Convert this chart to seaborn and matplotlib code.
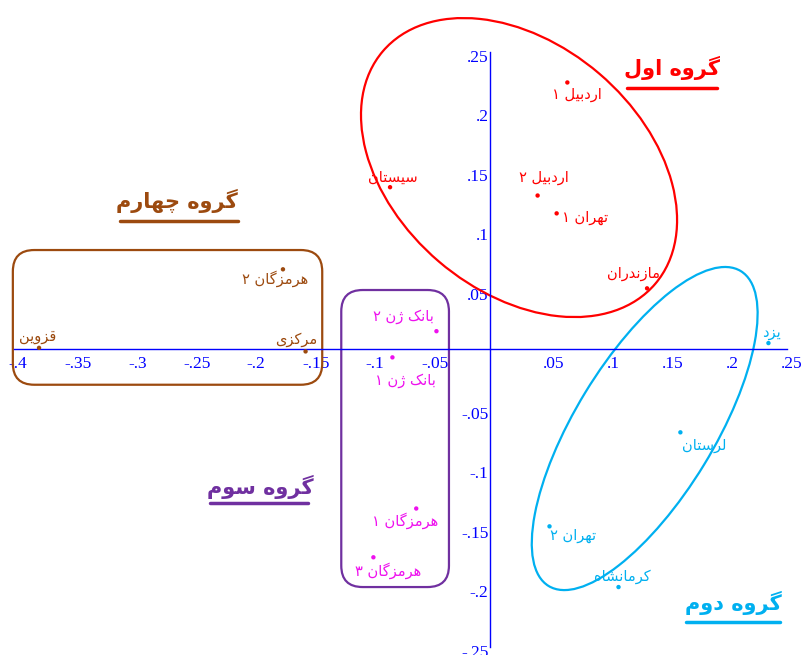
import matplotlib
matplotlib.use("Agg")
import pandas as pd
import matplotlib.pyplot as plt
import matplotlib.transforms as mtransforms
import seaborn as sns
from matplotlib.patches import Ellipse, FancyBboxPatch
from matplotlib.ticker import MultipleLocator, FuncFormatter

# province scores on the first two dimensions
names = ["اردبیل ۱", "اردبیل ۲", "تهران ۱", "سیستان", "مازندران",
         "یزد", "لرستان", "تهران ۲", "کرمانشاه",
         "بانک ژن ۲", "بانک ژن ۱", "هرمزگان ۱", "هرمزگان ۳",
         "هرمزگان ۲", "قزوین", "مرکزی"]
dim1 = [0.065, 0.040, 0.056, -0.084, 0.132,
        0.234, 0.160, 0.050, 0.108,
        -0.045, -0.082, -0.062, -0.098,
        -0.174, -0.379, -0.155]
dim2 = [0.224, 0.129, 0.114, 0.136, 0.051,
        0.005, -0.070, -0.149, -0.200,
        0.015, -0.007, -0.134, -0.175,
        0.067, 0.001, -0.002]
groups = ["g1"] * 5 + ["g2"] * 4 + ["g3"] * 4 + ["g4"] * 3
group_titles = ["گروه اول", "گروه دوم", "گروه سوم", "گروه چهارم"]

point_colors = {"g1": "#ff0000", "g2": "#00b0f0", "g3": "#ee11ee", "g4": "#9c4a0f"}
title_colors = ["#ff0000", "#00b0f0", "#7030a0", "#9c4a0f"]

# label offsets in pixels (dx, dy)
label_off = [(10, -12), (6, 18), (28, -4), (3, 10), (-14, 15),
             (3, 11), (24, -13), (24, -9), (4, 11),
             (-33, 15), (13, -23), (-11, -12), (15, -13),
             (-8, -9), (-1, 11), (-9, 12)]

# simple persian shaping (matplotlib has no complex text layout)
FORMS = {
    "ا": ("\ufe8d", "\ufe8e", None, None), "ب": ("\ufe8f", "\ufe90", "\ufe91", "\ufe92"),
    "ت": ("\ufe95", "\ufe96", "\ufe97", "\ufe98"), "د": ("\ufea9", "\ufeaa", None, None),
    "ر": ("\ufead", "\ufeae", None, None), "ز": ("\ufeaf", "\ufeb0", None, None),
    "ژ": ("\ufb8a", "\ufb8b", None, None), "س": ("\ufeb1", "\ufeb2", "\ufeb3", "\ufeb4"),
    "ش": ("\ufeb5", "\ufeb6", "\ufeb7", "\ufeb8"), "ق": ("\ufed5", "\ufed6", "\ufed7", "\ufed8"),
    "ک": ("\ufb8e", "\ufb8f", "\ufb90", "\ufb91"), "گ": ("\ufb92", "\ufb93", "\ufb94", "\ufb95"),
    "ل": ("\ufedd", "\ufede", "\ufedf", "\ufee0"), "م": ("\ufee1", "\ufee2", "\ufee3", "\ufee4"),
    "ن": ("\ufee5", "\ufee6", "\ufee7", "\ufee8"), "و": ("\ufeed", "\ufeee", None, None),
    "ه": ("\ufee9", "\ufeea", "\ufeeb", "\ufeec"), "ی": ("\ufbfc", "\ufbfd", "\ufbfe", "\ufbff"),
    "چ": ("\ufb7a", "\ufb7b", "\ufb7c", "\ufb7d"),
}


def fa(text):
    out = []
    for i, ch in enumerate(text):
        if ch not in FORMS:
            out.append(ch)
            continue
        iso, fin, ini, med = FORMS[ch]
        prev = text[i - 1] if i > 0 else ""
        nxt = text[i + 1] if i + 1 < len(text) else ""
        jp = prev in FORMS and FORMS[prev][2] is not None
        jn = ini is not None and nxt in FORMS
        if jp and jn:
            out.append(med)
        elif jp:
            out.append(fin)
        elif jn:
            out.append(ini)
        else:
            out.append(iso)
    return "".join(out)[::-1]


df = pd.DataFrame({"name": names, "dim1": dim1, "dim2": dim2, "group": groups})

sns.set_style("white")
plt.rcParams["font.family"] = ["DejaVu Sans"]

fig = plt.figure(figsize=(8.02, 6.55), dpi=100)
ax = fig.add_axes([0, 0, 1, 1])
ax.set_xlim(-0.4118, 0.2622)
ax.set_ylim(-0.2571, 0.2933)

sns.scatterplot(data=df, x="dim1", y="dim2", hue="group", palette=point_colors,
                s=10, linewidth=0, legend=False, ax=ax, zorder=3)

for i, r in df.iterrows():
    ax.annotate(fa(r["name"]), (r["dim1"], r["dim2"]), xytext=label_off[i],
                textcoords="offset pixels", ha="center", va="center",
                color=point_colors[r["group"]], fontsize=10.5)

# axes through the origin
blue = "#0000ff"
for s in ["top", "right"]:
    ax.spines[s].set_visible(False)
ax.spines["left"].set_position(("data", 0))
ax.spines["bottom"].set_position(("data", 0))
ax.spines["left"].set_bounds(-0.25, 0.25)
ax.spines["bottom"].set_bounds(-0.4, 0.25)
for s in ["left", "bottom"]:
    ax.spines[s].set_color(blue)
    ax.spines[s].set_linewidth(1)
ax.xaxis.set_major_locator(MultipleLocator(0.05))
ax.yaxis.set_major_locator(MultipleLocator(0.05))
ax.xaxis.set_minor_locator(MultipleLocator(0.025))
ax.yaxis.set_minor_locator(MultipleLocator(0.025))


def tick_fmt(v, pos):
    if abs(v) < 1e-9:
        return ""
    return f"{v:g}".replace("0.", ".")


ax.xaxis.set_major_formatter(FuncFormatter(tick_fmt))
ax.yaxis.set_major_formatter(FuncFormatter(tick_fmt))
ax.tick_params(which="major", direction="inout", length=8, width=1, color=blue,
               labelcolor=blue, labelsize=12.5)
ax.tick_params(which="minor", direction="inout", length=5, width=1, color=blue)
ax.tick_params(axis="y", which="major", pad=-3)
ax.tick_params(axis="x", which="major", pad=1)
y_shift = mtransforms.ScaledTranslation(0, -3 / 72, fig.dpi_scale_trans)
x_shift = mtransforms.ScaledTranslation(3 / 72, 0, fig.dpi_scale_trans)
for lab in ax.get_yticklabels():
    lab.set_family("Liberation Serif")
    lab.set_transform(lab.get_transform() + y_shift)
for lab in ax.get_xticklabels():
    lab.set_family("Liberation Serif")
    lab.set_transform(lab.get_transform() + x_shift)
ax.set_xlabel("")
ax.set_ylabel("")

# group outlines
ax.add_patch(Ellipse((0.0244, 0.1525), 0.301, 0.2076, angle=-40.5,
                     fill=False, edgecolor="#ff0000", lw=1.6))
ax.add_patch(Ellipse((0.130, -0.0668), 0.310, 0.1168, angle=58.6,
                     fill=False, edgecolor="#00b0f0", lw=1.6))
ax.add_patch(FancyBboxPatch((-0.125, -0.200), 0.0905, 0.2496,
                            boxstyle="round,pad=0,rounding_size=0.018",
                            fill=False, edgecolor="#7030a0", lw=1.6))
ax.add_patch(FancyBboxPatch((-0.401, -0.030), 0.260, 0.1132,
                            boxstyle="round,pad=0,rounding_size=0.018",
                            fill=False, edgecolor="#9c4a0f", lw=1.6))

# group titles with underline (pixel positions of the reference layout)
title_pos = [(672, 68), (733, 603), (260, 487), (177, 201)]
underline = [(627, 717, 88), (686, 780, 622), (210, 308, 503), (120, 238, 221)]
W, H = 802, 655
for t, c, (px, py), (u0, u1, uy) in zip(group_titles, title_colors, title_pos, underline):
    fig.text(px / W, 1 - py / H, fa(t), color=c, fontsize=15, fontweight="bold",
             ha="center", va="center")
    fig.add_artist(plt.Line2D([u0 / W, u1 / W], [1 - uy / H, 1 - uy / H],
                              color=c, lw=2.5, transform=fig.transFigure))

fig.savefig("out.png", dpi=100)
